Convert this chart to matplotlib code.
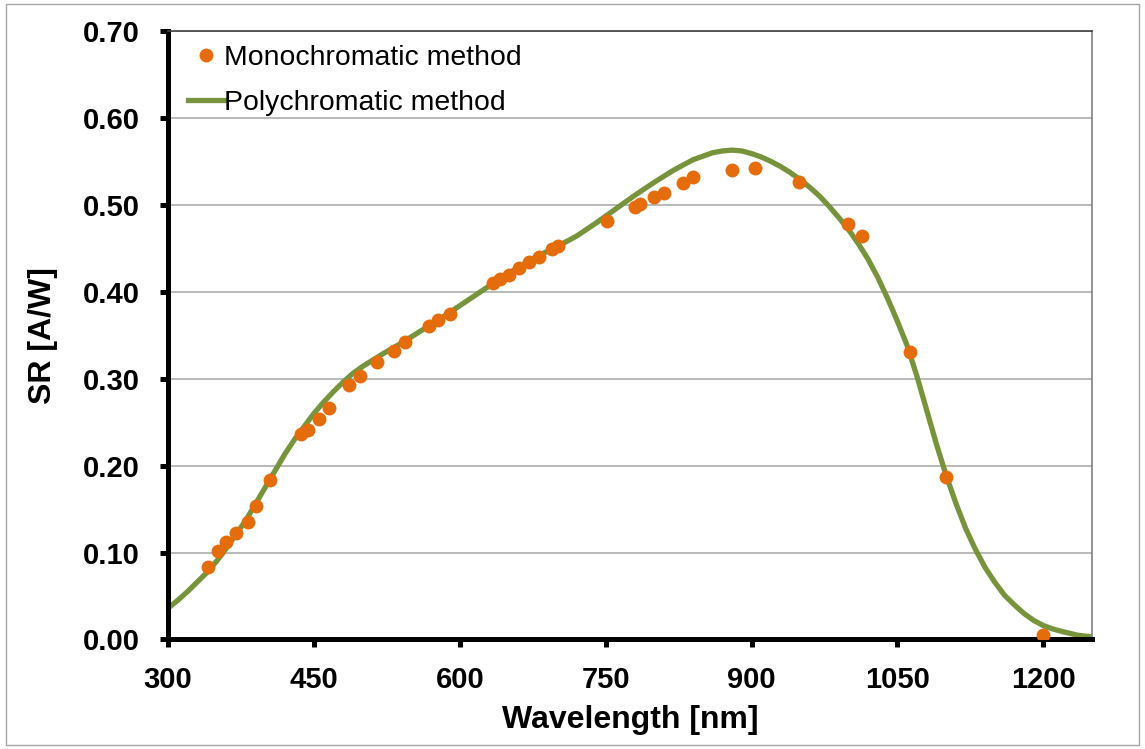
import matplotlib.pyplot as plt
from matplotlib.patches import Rectangle
from matplotlib.lines import Line2D

plt.rcParams['font.family'] = ['Liberation Sans', 'DejaVu Sans']

# Monochromatic method (measured points)
mono_wl = [341, 351, 360, 370, 382, 391, 405, 437, 444, 455, 466, 486,
           497, 515, 532, 544, 568, 578, 590, 634, 641, 651, 661, 671,
           681, 695, 701, 751, 780, 785, 800, 810, 830, 840, 880, 904,
           949, 999, 1014, 1063, 1100, 1200]
mono_sr = [0.083, 0.102, 0.112, 0.123, 0.135, 0.153, 0.184, 0.236, 0.241,
           0.254, 0.266, 0.293, 0.303, 0.319, 0.332, 0.342, 0.361, 0.368,
           0.375, 0.410, 0.415, 0.419, 0.427, 0.434, 0.440, 0.449, 0.453,
           0.481, 0.498, 0.501, 0.509, 0.514, 0.525, 0.532, 0.540, 0.542,
           0.526, 0.478, 0.464, 0.331, 0.187, 0.005]

# Polychromatic method (curve)
poly_wl = [300, 310, 320, 330, 340, 350, 360, 370, 380, 390, 400, 410, 420,
           430, 440, 450, 460, 470, 480, 490, 500, 520, 540, 560, 580, 600,
           620, 640, 660, 680, 700, 720, 740, 760, 780, 800, 820, 840, 850,
           860, 870, 880, 890, 900, 910, 920, 930, 940, 950, 960, 970, 980,
           990, 1000, 1010, 1020, 1030, 1040, 1050, 1060, 1070, 1080, 1090,
           1100, 1110, 1120, 1130, 1140, 1150, 1160, 1170, 1180, 1190, 1200,
           1210, 1220, 1235, 1250]
poly_sr = [0.036, 0.045, 0.055, 0.066, 0.077, 0.090, 0.105, 0.121, 0.137,
           0.156, 0.175, 0.194, 0.213, 0.230, 0.245, 0.260, 0.273, 0.285,
           0.296, 0.306, 0.314, 0.328, 0.341, 0.355, 0.369, 0.384, 0.399,
           0.414, 0.428, 0.441, 0.452, 0.464, 0.479, 0.495, 0.511, 0.526,
           0.540, 0.552, 0.556, 0.560, 0.562, 0.563, 0.562, 0.559, 0.555,
           0.550, 0.544, 0.537, 0.529, 0.520, 0.510, 0.498, 0.485, 0.471,
           0.455, 0.437, 0.416, 0.392, 0.366, 0.338, 0.303, 0.264, 0.225,
           0.189, 0.157, 0.128, 0.104, 0.083, 0.066, 0.051, 0.040, 0.030,
           0.022, 0.016, 0.012, 0.009, 0.005, 0.003]

fig = plt.figure(figsize=(11.45, 7.49), dpi=100)
ax = fig.add_axes([0.1467, 0.1462, 0.8070, 0.8124])

ax.plot(poly_wl, poly_sr, color='#77933C', lw=3.8, zorder=2,
        solid_capstyle='butt', solid_joinstyle='round')
ax.plot(mono_wl, mono_sr, 'o', color='#E46C0A', ms=10, mec='none', zorder=3)

ax.set_xlim(300, 1250)
ax.set_ylim(0, 0.70)
ax.set_xticks([300, 450, 600, 750, 900, 1050, 1200])
ax.set_yticks([0.0, 0.1, 0.2, 0.3, 0.4, 0.5, 0.6, 0.7])
ax.set_yticklabels(['%.2f' % v for v in ax.get_yticks()])
ax.grid(axis='y', color='#A6A6A6', lw=1.1)
ax.set_axisbelow(True)

for s in ['left', 'bottom']:
    ax.spines[s].set_linewidth(3.6)
    ax.spines[s].set_color('black')
ax.spines['top'].set_linewidth(1.2)
ax.spines['top'].set_color('#404040')
ax.spines['right'].set_linewidth(1.2)
ax.spines['right'].set_color('#808080')

ax.tick_params(axis='both', direction='out', length=6, width=3.6,
               labelsize=21)
ax.tick_params(axis='x', pad=13)
ax.tick_params(axis='y', pad=14)
for lab in ax.get_xticklabels() + ax.get_yticklabels():
    lab.set_fontweight('bold')

ax.set_xlabel('Wavelength [nm]', fontsize=23, fontweight='bold', labelpad=8)
ax.set_ylabel('SR [A/W]', fontsize=23, fontweight='bold', labelpad=18)

handles = [Line2D([], [], ls='none', marker='o', color='#E46C0A', ms=10, mec='none'),
           Line2D([], [], color='#77933C', lw=3.8)]
ax.legend(handles, ['Monochromatic method', 'Polychromatic method'],
          loc='upper left', frameon=False, fontsize=20.4, handlelength=1.25,
          handletextpad=0.0, labelspacing=0.66, borderaxespad=0.1,
          bbox_to_anchor=(0.0065, 1.0))

fig.patches.append(Rectangle((0.005, 0.006), 0.99, 0.988, transform=fig.transFigure,
                             fill=False, edgecolor='#A6A6A6', lw=1.0))

fig.savefig('out.png', dpi=100)
